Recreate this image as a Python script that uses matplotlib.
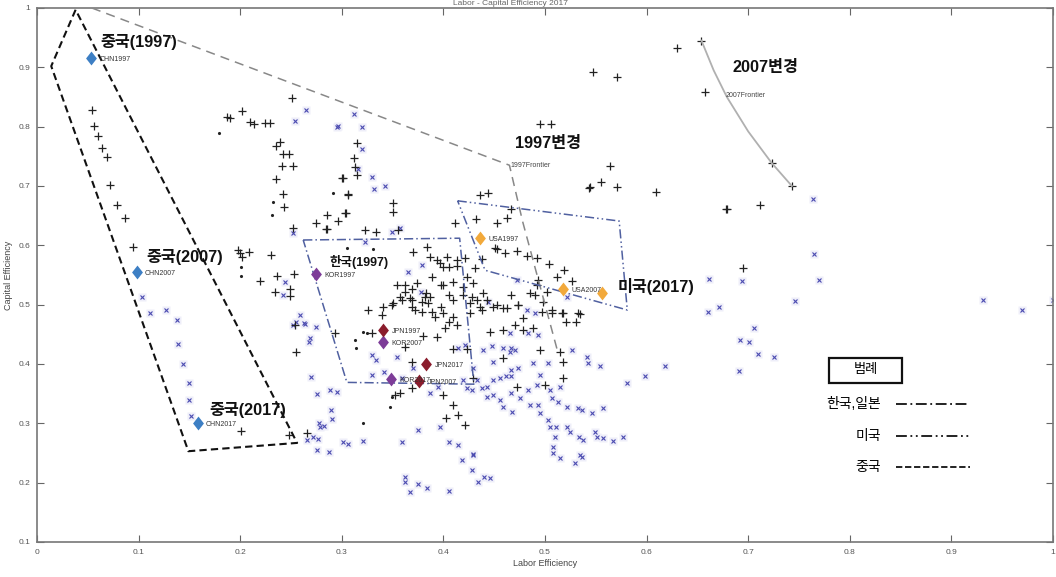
import matplotlib
matplotlib.use('Agg')
import matplotlib.pyplot as plt
from matplotlib.lines import Line2D
from matplotlib.patches import Rectangle
from matplotlib.path import Path

plt.rcParams['font.family'] = ['Liberation Sans', 'Noto Sans CJK KR', 'DejaVu Sans']

# DMU 점들 (노동효율, 자본효율)
plus_pts = [
    (0.054, 0.828), (0.056, 0.801), (0.060, 0.784), (0.064, 0.764), (0.069, 0.749), (0.072, 0.702),
    (0.079, 0.668), (0.087, 0.646), (0.094, 0.597),
    (0.187, 0.816), (0.190, 0.814), (0.202, 0.826), (0.210, 0.808), (0.214, 0.804), (0.224, 0.806),
    (0.229, 0.806), (0.251, 0.848), (0.235, 0.767), (0.239, 0.774), (0.242, 0.754), (0.248, 0.754),
    (0.241, 0.734), (0.252, 0.734), (0.235, 0.712), (0.242, 0.686), (0.243, 0.665), (0.252, 0.629),
    (0.300, 0.714), (0.275, 0.637), (0.284, 0.627), (0.296, 0.641), (0.304, 0.654), (0.306, 0.686),
    (0.285, 0.651), (0.285, 0.627), (0.198, 0.592), (0.200, 0.587), (0.230, 0.584), (0.219, 0.540),
    (0.236, 0.548), (0.253, 0.551), (0.234, 0.521), (0.202, 0.580), (0.209, 0.589), (0.249, 0.526),
    (0.249, 0.515), (0.254, 0.465), (0.255, 0.420), (0.201, 0.287), (0.248, 0.280), (0.266, 0.283),
    (0.315, 0.772), (0.312, 0.747), (0.313, 0.732), (0.315, 0.718), (0.301, 0.713), (0.306, 0.685),
    (0.303, 0.654), (0.350, 0.671), (0.350, 0.657), (0.323, 0.626), (0.334, 0.623), (0.355, 0.626),
    (0.370, 0.589), (0.384, 0.597), (0.362, 0.533), (0.369, 0.526), (0.357, 0.513), (0.369, 0.508),
    (0.350, 0.503), (0.341, 0.496), (0.326, 0.491), (0.369, 0.496), (0.379, 0.505),
    (0.436, 0.685), (0.444, 0.688), (0.544, 0.698), (0.467, 0.661), (0.432, 0.644), (0.453, 0.637),
    (0.463, 0.646), (0.411, 0.637), (0.453, 0.594), (0.472, 0.590), (0.482, 0.582), (0.492, 0.578),
    (0.504, 0.568), (0.512, 0.546), (0.519, 0.558), (0.527, 0.540), (0.394, 0.575), (0.404, 0.580),
    (0.413, 0.575), (0.421, 0.578), (0.400, 0.563), (0.406, 0.563), (0.413, 0.565), (0.431, 0.561),
    (0.438, 0.577), (0.389, 0.547), (0.398, 0.533), (0.409, 0.538), (0.423, 0.547), (0.429, 0.536),
    (0.419, 0.530), (0.428, 0.513), (0.433, 0.508), (0.436, 0.496), (0.453, 0.500), (0.463, 0.494),
    (0.473, 0.500), (0.498, 0.505), (0.507, 0.486), (0.490, 0.516), (0.492, 0.533), (0.502, 0.521),
    (0.517, 0.486), (0.534, 0.484), (0.367, 0.511), (0.382, 0.513), (0.385, 0.503), (0.372, 0.491),
    (0.398, 0.496), (0.406, 0.516), (0.392, 0.479), (0.409, 0.479),
    (0.630, 0.933), (0.654, 0.945), (0.547, 0.892), (0.571, 0.884), (0.657, 0.858), (0.495, 0.805),
    (0.506, 0.805), (0.564, 0.734), (0.543, 0.697), (0.555, 0.707), (0.571, 0.698), (0.609, 0.690),
    (0.678, 0.661), (0.387, 0.581), (0.397, 0.571), (0.461, 0.587), (0.451, 0.596), (0.493, 0.541),
    (0.354, 0.533), (0.362, 0.521), (0.374, 0.536), (0.383, 0.519), (0.387, 0.513), (0.400, 0.533),
    (0.409, 0.508), (0.419, 0.516), (0.426, 0.503), (0.439, 0.519), (0.443, 0.508), (0.467, 0.516),
    (0.473, 0.499), (0.485, 0.519), (0.340, 0.483), (0.349, 0.499), (0.359, 0.508), (0.379, 0.488),
    (0.389, 0.488), (0.400, 0.486), (0.406, 0.471), (0.413, 0.465), (0.426, 0.486), (0.438, 0.491),
    (0.449, 0.496), (0.459, 0.494), (0.470, 0.465), (0.478, 0.477), (0.488, 0.460), (0.497, 0.488),
    (0.507, 0.491), (0.518, 0.486), (0.532, 0.486), (0.521, 0.470), (0.531, 0.470), (0.446, 0.454),
    (0.459, 0.457), (0.478, 0.457), (0.330, 0.452), (0.380, 0.448), (0.394, 0.445), (0.402, 0.460),
    (0.409, 0.425), (0.423, 0.425), (0.495, 0.423), (0.515, 0.420), (0.518, 0.403), (0.459, 0.410),
    (0.362, 0.429), (0.369, 0.403), (0.429, 0.376), (0.518, 0.377), (0.472, 0.361), (0.500, 0.364),
    (0.409, 0.331), (0.414, 0.314), (0.403, 0.309), (0.421, 0.297), (0.352, 0.348), (0.357, 0.351),
    (0.369, 0.360), (0.400, 0.348), (0.293, 0.452),
    (0.679, 0.661), (0.712, 0.668), (0.695, 0.562), (0.723, 0.739), (0.743, 0.700),
]

cross_pts = [
    (0.103, 0.513), (0.111, 0.486), (0.127, 0.491), (0.138, 0.474), (0.139, 0.433), (0.144, 0.400),
    (0.150, 0.368), (0.150, 0.340), (0.152, 0.313),
    (0.254, 0.810), (0.265, 0.828), (0.296, 0.801), (0.244, 0.538), (0.242, 0.516), (0.252, 0.621),
    (0.255, 0.471), (0.259, 0.482), (0.263, 0.469), (0.275, 0.462), (0.269, 0.444), (0.268, 0.437),
    (0.270, 0.378), (0.276, 0.349), (0.288, 0.356), (0.295, 0.352), (0.289, 0.322), (0.290, 0.307),
    (0.278, 0.300), (0.282, 0.295), (0.266, 0.272), (0.272, 0.277), (0.277, 0.273), (0.276, 0.255),
    (0.287, 0.251), (0.301, 0.268), (0.306, 0.266), (0.252, 0.466), (0.264, 0.467), (0.279, 0.294),
    (0.312, 0.821), (0.295, 0.799), (0.320, 0.799), (0.320, 0.762), (0.316, 0.728), (0.330, 0.715),
    (0.332, 0.695), (0.343, 0.700), (0.349, 0.622), (0.357, 0.629), (0.323, 0.606), (0.365, 0.555),
    (0.379, 0.567), (0.472, 0.541), (0.444, 0.504), (0.482, 0.491), (0.490, 0.486), (0.522, 0.513),
    (0.378, 0.521),
    (0.330, 0.415), (0.334, 0.406), (0.330, 0.381), (0.342, 0.386), (0.354, 0.412), (0.370, 0.393),
    (0.359, 0.376), (0.387, 0.351), (0.395, 0.361), (0.375, 0.289), (0.397, 0.294), (0.406, 0.268),
    (0.414, 0.263), (0.418, 0.238), (0.429, 0.247), (0.428, 0.221), (0.434, 0.201), (0.440, 0.210),
    (0.446, 0.208), (0.362, 0.210), (0.362, 0.201), (0.367, 0.184), (0.375, 0.197), (0.384, 0.191),
    (0.406, 0.186), (0.359, 0.268), (0.321, 0.271), (0.414, 0.427), (0.421, 0.432), (0.439, 0.423),
    (0.449, 0.403), (0.459, 0.427), (0.466, 0.420), (0.470, 0.423), (0.467, 0.390), (0.462, 0.379),
    (0.467, 0.379), (0.473, 0.393), (0.456, 0.376), (0.449, 0.373), (0.443, 0.361), (0.438, 0.359),
    (0.428, 0.356), (0.423, 0.359), (0.433, 0.373), (0.419, 0.373), (0.443, 0.344), (0.449, 0.347),
    (0.456, 0.339), (0.467, 0.351), (0.475, 0.342), (0.459, 0.327), (0.468, 0.319), (0.483, 0.356),
    (0.492, 0.364), (0.493, 0.331), (0.485, 0.331), (0.495, 0.317), (0.503, 0.306), (0.505, 0.294),
    (0.511, 0.294), (0.510, 0.277), (0.508, 0.260), (0.508, 0.250), (0.515, 0.241), (0.522, 0.294),
    (0.525, 0.285), (0.533, 0.277), (0.537, 0.272), (0.549, 0.285), (0.551, 0.277), (0.557, 0.275),
    (0.567, 0.271), (0.577, 0.277), (0.530, 0.233), (0.536, 0.243), (0.507, 0.343), (0.513, 0.336),
    (0.522, 0.327), (0.532, 0.325), (0.536, 0.322), (0.546, 0.317), (0.557, 0.326), (0.505, 0.356),
    (0.515, 0.361), (0.495, 0.381), (0.503, 0.402), (0.488, 0.402), (0.467, 0.427), (0.448, 0.430),
    (0.429, 0.393), (0.466, 0.452), (0.483, 0.452), (0.493, 0.449), (0.527, 0.423), (0.541, 0.411),
    (0.542, 0.401), (0.554, 0.396), (0.534, 0.247), (0.429, 0.248),
    (0.581, 0.368), (0.598, 0.380), (0.618, 0.396), (0.671, 0.496), (0.660, 0.488), (0.764, 0.678),
    (0.765, 0.585), (0.661, 0.543), (0.694, 0.540), (0.770, 0.542), (0.746, 0.506), (0.931, 0.508),
    (0.969, 0.491), (1.000, 0.508), (0.706, 0.461), (0.692, 0.440), (0.701, 0.437), (0.710, 0.417),
    (0.725, 0.412), (0.691, 0.388),
]

dot_pts = [
    (0.179, 0.789), (0.232, 0.673), (0.291, 0.688), (0.201, 0.564), (0.201, 0.548), (0.231, 0.651),
    (0.305, 0.595), (0.331, 0.594), (0.321, 0.454), (0.313, 0.440), (0.347, 0.327), (0.321, 0.300),
    (0.349, 0.344), (0.314, 0.427), (0.325, 0.452),
]

# 국가별 대표 DMU
countries = ['CHN1997', 'CHN2007', 'CHN2017', 'KOR1997', 'KOR2007', 'KOR2017',
             'JPN1997', 'JPN2007', 'JPN2017', 'USA1997', 'USA2007', 'USA2017']
country_x = [0.053, 0.098, 0.158, 0.275, 0.341, 0.348, 0.341, 0.376, 0.383, 0.436, 0.518, 0.556]
country_y = [0.916, 0.555, 0.300, 0.552, 0.437, 0.374, 0.457, 0.372, 0.400, 0.612, 0.526, 0.519]
country_color = {'CHN': '#3d7fc4', 'KOR': '#7d3c98', 'JPN': '#8b1c2c', 'USA': '#f2a93b'}

# 프론티어
frontier97_x = [0.054, 0.465, 0.478, 0.512]
frontier97_y = [1.000, 0.735, 0.640, 0.424]
frontier07_x = [0.654, 0.666, 0.679, 0.700, 0.723, 0.743]
frontier07_y = [0.945, 0.895, 0.850, 0.792, 0.739, 0.700]

# 국가 영역
chn_poly_x = [0.038, 0.014, 0.149, 0.256, 0.038]
chn_poly_y = [0.997, 0.902, 0.253, 0.267, 0.997]
kj_poly_x = [0.262, 0.416, 0.430, 0.305, 0.262]
kj_poly_y = [0.609, 0.612, 0.366, 0.369, 0.609]
usa_poly_x = [0.414, 0.573, 0.581, 0.441, 0.414]
usa_poly_y = [0.675, 0.641, 0.491, 0.558, 0.675]

diamond = Path([(0, 1), (0.78, 0), (0, -1), (-0.78, 0), (0, 1)],
               [Path.MOVETO, Path.LINETO, Path.LINETO, Path.LINETO, Path.CLOSEPOLY])

fig = plt.figure(figsize=(10.56, 5.77), dpi=100)
ax = fig.add_axes([37 / 1056, 1 - 542 / 577, 1016 / 1056, 534 / 577])

cx = [p[0] for p in cross_pts]
cy = [p[1] for p in cross_pts]
ax.plot(cx, cy, 's', ms=6, color='#eeeef9', mec='none', zorder=1)
ax.plot(cx, cy, 'x', ms=3.2, mew=0.8, color='#4b4bb0', zorder=2)
ax.plot([p[0] for p in plus_pts], [p[1] for p in plus_pts], '+', ms=5.5, mew=0.9, color='#222222', zorder=3)
ax.plot([p[0] for p in dot_pts], [p[1] for p in dot_pts], '.', ms=2.5, color='#222222', zorder=3)

ax.plot(frontier97_x, frontier97_y, color='#888888', lw=1.1, dashes=(6, 4), zorder=4)
ax.plot(frontier07_x, frontier07_y, color='#b0b0b0', lw=1.3, zorder=4)
ax.text(0.466, 0.734, '1997Frontier', fontsize=5, color='#444444', va='center', zorder=6)
ax.text(0.678, 0.852, '2007Frontier', fontsize=5, color='#444444', va='center', zorder=6)

ax.plot(chn_poly_x, chn_poly_y, color='#111111', lw=1.5, dashes=(3.5, 2), zorder=5)
ax.plot(kj_poly_x, kj_poly_y, color='#5060a0', lw=1.1, dashes=(6, 2, 1, 2), zorder=5)
ax.plot(usa_poly_x, usa_poly_y, color='#5060a0', lw=1.1, dashes=(6, 2, 1, 2, 1, 2), zorder=5)

for name, x, y in zip(countries, country_x, country_y):
    ax.plot(x, y, marker=diamond, ms=10, color=country_color[name[:3]], mec='none', zorder=7)
    if name != 'USA2017':  # 미국(2017) 글자에 가려져 보이지 않음
        ax.annotate(name, (x, y), xytext=(6, -1), textcoords='offset points',
                    fontsize=5, color='#333333', va='center', zorder=8)

big = dict(fontsize=11.7, fontweight='bold', color='#111111', va='center', zorder=9)
ax.text(0.062, 0.943, '중국(1997)', **big)
ax.text(0.108, 0.580, '중국(2007)', **big)
ax.text(0.170, 0.322, '중국(2017)', **big)
ax.text(0.288, 0.572, '한국(1997)', fontsize=9, fontweight='bold', color='#111111', va='center', zorder=9)
ax.text(0.470, 0.772, '1997변경', **big)
ax.text(0.685, 0.900, '2007변경', **big)
ax.text(0.571, 0.531, '미국(2017)', **big)

# 범례
ax.add_patch(Rectangle((0.7795, 0.2978), 0.0719, 0.0467, transform=ax.transAxes,
                       fc='white', ec='#111111', lw=1.6, zorder=10))
ax.text(0.8155, 0.3212, '범례', transform=ax.transAxes, fontsize=9.5, ha='center', va='center', zorder=11)
leg_items = [('한국,일본', (6, 2, 1, 2), 0.259),
             ('미국', (6, 2, 1, 2, 1, 2), 0.199),
             ('중국', (3.5, 1.5), 0.140)]
for label, dash, yy in leg_items:
    ax.text(0.831, yy, label, transform=ax.transAxes, fontsize=10, ha='right', va='center', zorder=10)
    ax.add_line(Line2D([0.845, 0.918], [yy, yy], transform=ax.transAxes, color='#111111',
                       lw=1.3, dashes=dash, zorder=10))

ax.set_xlim(0, 1)
ax.set_ylim(0.1, 1)
ax.set_xticks([0, 0.1, 0.2, 0.3, 0.4, 0.5, 0.6, 0.7, 0.8, 0.9, 1])
ax.set_xticklabels(['0', '0.1', '0.2', '0.3', '0.4', '0.5', '0.6', '0.7', '0.8', '0.9', '1'])
ax.set_yticks([0.1, 0.2, 0.3, 0.4, 0.5, 0.6, 0.7, 0.8, 0.9, 1])
ax.set_yticklabels(['0.1', '0.2', '0.3', '0.4', '0.5', '0.6', '0.7', '0.8', '0.9', '1'])
ax.tick_params(direction='in', length=5, width=0.8, color='#666666', labelsize=6,
               labelcolor='#555555', top=True, right=True, pad=5)
for s in ax.spines.values():
    s.set_color('#777777')
    s.set_linewidth(1.2)
ax.set_xlabel('Labor Efficiency', fontsize=6.5, color='#444444', labelpad=2)
ax.set_ylabel('Capital Efficiency', fontsize=6.5, color='#444444', labelpad=4)
fig.text(0.483, 0.9875, 'Labor - Capital Efficiency 2017', fontsize=6, color='#666666',
         ha='center', va='bottom')

fig.savefig('out.png', dpi=100)
